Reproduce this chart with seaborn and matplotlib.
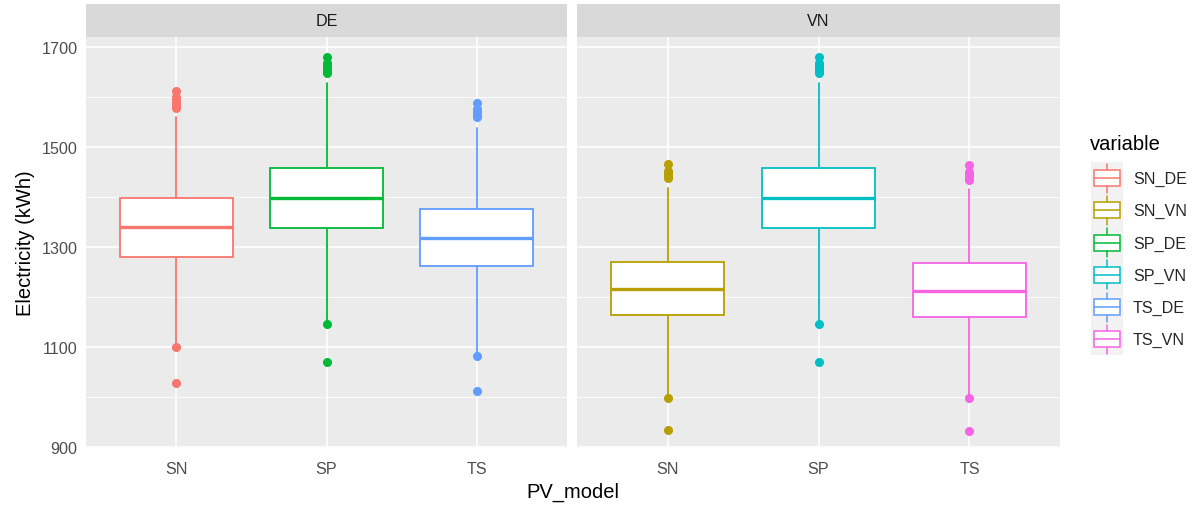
import matplotlib
matplotlib.use("Agg")
import matplotlib.pyplot as plt
import matplotlib.patches as mpatches
from matplotlib.lines import Line2D
from matplotlib.legend_handler import HandlerBase
from matplotlib.ticker import FixedLocator
import seaborn as sns

# ---------------- data ----------------
countries = ["DE", "VN"]
models = ["SN", "SP", "TS"]
variables = ["SN_DE", "SN_VN", "SP_DE", "SP_VN", "TS_DE", "TS_VN"]
colors = ["#F8766D", "#B79F00", "#00BA38", "#00BFC4", "#619CFF", "#F564E3"]

whislo = [1103, 1002, 1150, 1150, 1086, 1001]
q1 = [1280, 1165, 1337, 1337, 1263, 1161]
med = [1340, 1216, 1397, 1397, 1318, 1213]
q3 = [1398, 1271, 1457, 1457, 1375, 1268]
whishi = [1560, 1418, 1627, 1627, 1537, 1415]
low_out = [[1100, 1028], [998, 934], [1147, 1071], [1147, 1071], [1083, 1012], [998, 932]]
high_out = [
    [1578, 1583, 1588, 1593, 1600, 1611],
    [1437, 1442, 1447, 1452, 1465],
    [1647, 1652, 1657, 1662, 1668, 1680],
    [1647, 1652, 1657, 1662, 1668, 1680],
    [1560, 1565, 1570, 1576, 1587],
    [1433, 1438, 1443, 1450, 1463],
]
y_ticks = [900, 1100, 1300, 1500, 1700]
y_minor = [1000, 1200, 1400, 1600]

# ---------------- style ----------------
sns.set_theme(style="darkgrid")
plt.rcParams["font.family"] = ["Liberation Sans", "DejaVu Sans"]

W, H = 1197, 506
fig = plt.figure(figsize=(W / 100, H / 100), dpi=100)
fig.patch.set_facecolor("white")

panel_bg = "#EBEBEB"
strip_bg = "#D9D9D9"
tick_col = "#4D4D4D"
small_fs = 11.6
title_fs = 14.5

ylim = (898, 1720)

panels = [(86, 567), (577, 1060)]
top_px, bot_px = 37.7, 449.3
strip_top = 5.3

axes = []
for ci, (country, (l, r)) in enumerate(zip(countries, panels)):
    ax = fig.add_axes([l / W, 1 - bot_px / H, (r - l) / W, (bot_px - top_px) / H])
    ax.set_facecolor(panel_bg)
    for s in ax.spines.values():
        s.set_visible(False)
    ax.set_xlim(-0.6, len(models) - 0.4)
    ax.set_ylim(*ylim)
    ax.yaxis.set_major_locator(FixedLocator(y_ticks))
    ax.yaxis.set_minor_locator(FixedLocator(y_minor))
    ax.grid(which="major", color="white", linewidth=1.2)
    ax.grid(which="minor", axis="y", color="white", linewidth=0.6)
    ax.set_axisbelow(True)
    ax.set_xticks(range(len(models)))
    ax.set_xticklabels(models)
    ax.tick_params(axis="both", which="major", length=3.5, width=1, color="#333333",
                   labelcolor=tick_col, labelsize=small_fs, pad=2.5)
    ax.tick_params(axis="x", which="major", pad=5.5)
    ax.tick_params(axis="y", which="minor", length=0)
    if ci > 0:
        ax.tick_params(axis="y", which="major", labelleft=False, length=0)

    for mi, m in enumerate(models):
        vi = variables.index(f"{m}_{country}")
        c = colors[vi]
        stats = [dict(whislo=whislo[vi], q1=q1[vi], med=med[vi], q3=q3[vi], whishi=whishi[vi],
                      fliers=low_out[vi] + high_out[vi])]
        ax.bxp(stats, positions=[mi], widths=0.75, patch_artist=True, showcaps=False,
               boxprops=dict(facecolor="white", edgecolor=c, linewidth=1.3),
               medianprops=dict(color=c, linewidth=2.4),
               whiskerprops=dict(color=c, linewidth=1.3),
               flierprops=dict(marker="o", markerfacecolor=c, markeredgecolor=c, markersize=5.5),
               manage_ticks=False, zorder=3)

    # strip
    sax = fig.add_axes([l / W, 1 - top_px / H, (r - l) / W, (top_px - strip_top) / H])
    sax.set_facecolor(strip_bg)
    sax.set_xticks([]); sax.set_yticks([])
    for s in sax.spines.values():
        s.set_visible(False)
    sax.text(0.5, 0.5, country, ha="center", va="center", fontsize=small_fs, color="#1A1A1A",
             transform=sax.transAxes)
    axes.append(ax)

axes[0].set_ylabel("Electricity (kWh)", fontsize=title_fs, color="black", labelpad=5)
fig.text((86 + 1060) / 2 / W, 1 - 492 / H, "PV_model", ha="center", va="center",
         fontsize=title_fs, color="black")


# ---------------- legend ----------------
class BoxHandler(HandlerBase):
    def create_artists(self, legend, orig_handle, xdescent, ydescent, width, height, fontsize, trans):
        c = orig_handle.get_edgecolor()
        x0, y0 = -xdescent, -ydescent
        bg = mpatches.Rectangle((x0, y0), width, height, facecolor="#F2F2F2",
                                edgecolor="none", transform=trans)
        bx = mpatches.Rectangle((x0 + 0.1 * width, y0 + 0.25 * height), 0.8 * width, 0.5 * height,
                                facecolor="white", edgecolor=c, linewidth=1.1, transform=trans)
        mline = Line2D([x0 + 0.1 * width, x0 + 0.9 * width], [y0 + 0.5 * height] * 2, color=c,
                       linewidth=1.1, transform=trans)
        w1 = Line2D([x0 + 0.5 * width] * 2, [y0 + 0.75 * height, y0 + 0.95 * height], color=c,
                    linewidth=1.1, transform=trans)
        w2 = Line2D([x0 + 0.5 * width] * 2, [y0 + 0.05 * height, y0 + 0.25 * height], color=c,
                    linewidth=1.1, transform=trans)
        return [bg, bx, mline, w1, w2]


handles = [mpatches.Patch(facecolor="white", edgecolor=c) for c in colors]
leg = fig.legend(handles, variables, handler_map={mpatches.Patch: BoxHandler(xpad=0.0, ypad=0.0)},
                 loc="upper left", bbox_to_anchor=(1091 / W, 1 - 163 / H), frameon=False,
                 fontsize=small_fs,
                 handlelength=2.0, handleheight=2.7, labelspacing=0.0, handletextpad=0.6,
                 borderpad=0.0, borderaxespad=0.0)
fig.text(1090 / W, 1 - 145 / H, "variable", ha="left", va="center", fontsize=title_fs,
         color="black")

fig.savefig("out.png", dpi=100, facecolor="white")
